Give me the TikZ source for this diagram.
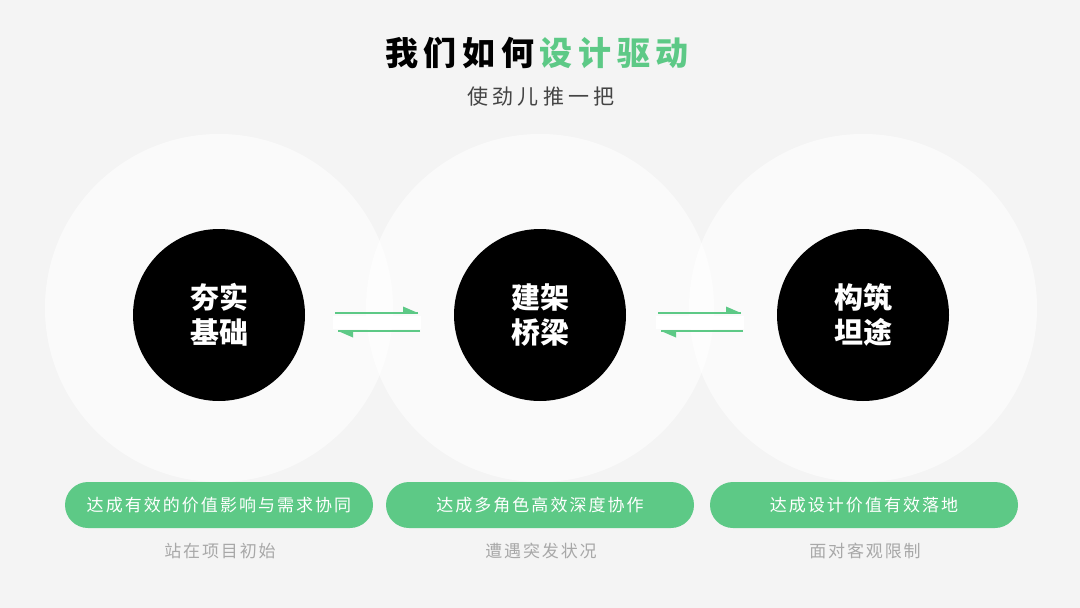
\documentclass[tikz,border=0pt]{standalone}
\usepackage{fontspec}
\setmainfont{Noto Sans CJK SC}
\definecolor{bg}{HTML}{F4F4F4}
\definecolor{grn}{HTML}{5DC986}
\definecolor{capgray}{HTML}{A8A8A8}
\definecolor{subgray}{HTML}{444444}
\begin{document}
\begin{tikzpicture}[x=1pt,y=-1pt,
  bigc/.style={circle,fill=white,fill opacity=0.6,minimum size=348pt,inner sep=0pt},
  core/.style={circle,fill=black,minimum size=172pt,inner sep=0pt,text=white,align=center,
    font=\fontsize{29}{35}\selectfont\bfseries},
  pill/.style={rectangle,rounded corners=23pt,fill=grn,minimum width=308pt,minimum height=46pt,
    inner sep=0pt,text=white,font=\fontsize{17}{20}\selectfont\addfontfeature{LetterSpace=12}},
  captxt/.style={text=capgray,inner sep=0pt,font=\fontsize{17}{20}\selectfont\addfontfeature{LetterSpace=11}},
  link/.style={draw=grn,line width=1.4pt},
  tipfill/.style={fill=grn},
  band/.style={fill=white}
]
\fill[bg] (0,0) rectangle (1080,608);
\useasboundingbox (0,0) rectangle (1080,608);

% title
\node[inner sep=0pt,font=\fontsize{33}{38}\selectfont\bfseries\addfontfeature{LetterSpace=17}] (title) at (537,53)
  {我们如何\hspace{5.6pt}\textcolor{grn}{设计驱动}};
\node[inner sep=0pt,text=subgray,font=\fontsize{21}{24}\selectfont\addfontfeature{LetterSpace=20}] (sub) at (541,97) {使劲儿推一把};

% big soft circles
\node[bigc] (b1) at (219,308) {};
\node[bigc] (b2) at (540,308) {};
\node[bigc] (b3) at (863,308) {};

% arrows between
\foreach \i/\dx in {1/0,2/323}{
  \fill[band] (333+\dx,316) rectangle (421+\dx,329);
  \coordinate (t\i s) at (335+\dx,313);
  \coordinate (t\i e) at (418+\dx,313);
  \coordinate (u\i s) at (420+\dx,331);
  \coordinate (u\i e) at (338+\dx,331);
  \draw[link] (t\i s) -- (t\i e);
  \fill[tipfill] (t\i e) -- (403+\dx,306.5) -- (403+\dx,313) -- cycle;
  \draw[link] (u\i s) -- (u\i e);
  \fill[tipfill] (u\i e) -- (353+\dx,337.5) -- (353+\dx,331) -- cycle;
}

% cores
\node[core] (c1) at (219,315) {夯实\\基础};
\node[core] (c2) at (540,315) {建架\\桥梁};
\node[core] (c3) at (863,315) {构筑\\坦途};

% pills
\node[pill] (p1) at (219,505) {达成有效的价值影响与需求协同};
\node[pill] (p2) at (540,505) {达成多角色高效深度协作};
\node[pill] (p3) at (864,505) {达成设计价值有效落地};

% captions
\node[captxt] (k1) at (220,551) {站在项目初始};
\node[captxt] (k2) at (541,551) {遭遇突发状况};
\node[captxt] (k3) at (865,551) {面对客观限制};
\end{tikzpicture}
\end{document}
